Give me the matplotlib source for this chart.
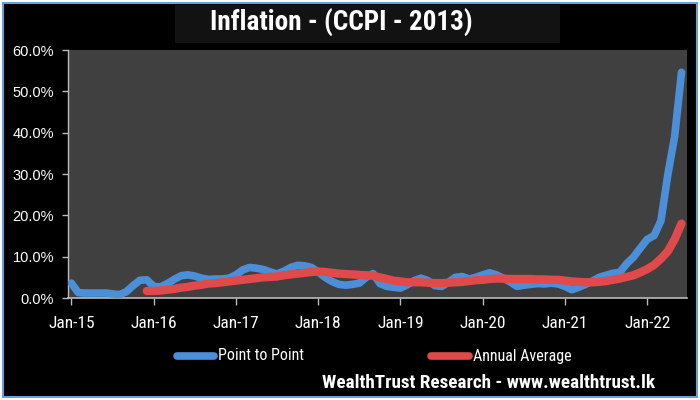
import matplotlib
matplotlib.use("Agg")
import matplotlib.pyplot as plt
from matplotlib.patches import Rectangle
from matplotlib.lines import Line2D
import numpy as np

# Monthly data Jan-15 .. Jun-22
point_to_point = [
    3.6, 1.3, 1.2, 1.2, 1.2, 1.2, 1.0, 0.8, 1.5, 3.0, 4.3, 4.4,   # 2015
    2.8, 2.7, 3.5, 4.5, 5.4, 5.6, 5.3, 4.8, 4.5, 4.6, 4.6, 4.8,   # 2016
    5.6, 6.8, 7.4, 7.2, 6.9, 6.3, 5.8, 6.5, 7.4, 7.9, 7.8, 7.4,   # 2017
    6.3, 5.0, 4.0, 3.3, 3.1, 3.3, 3.6, 5.0, 5.9, 3.5, 2.8, 2.6,   # 2018
    2.4, 3.2, 4.2, 4.8, 4.2, 3.0, 2.8, 3.8, 5.0, 5.2, 4.6, 5.0,   # 2019
    5.6, 6.1, 5.6, 4.8, 3.9, 2.8, 3.1, 3.3, 3.5, 3.4, 3.6, 3.4,   # 2020
    2.8, 2.0, 2.6, 3.3, 4.1, 5.0, 5.5, 6.0, 6.2, 8.3, 9.9, 12.1,  # 2021
    14.2, 15.1, 18.7, 29.8, 39.1, 54.6,                            # 2022
]
annual_average = [
    None] * 11 + [1.7,                                             # 2015
    1.7, 1.8, 2.0, 2.2, 2.5, 2.7, 3.0, 3.2, 3.5, 3.6, 3.8, 4.0,   # 2016
    4.2, 4.4, 4.6, 4.8, 5.0, 5.1, 5.2, 5.5, 5.7, 5.9, 6.1, 6.3,   # 2017
    6.4, 6.3, 6.1, 5.9, 5.8, 5.7, 5.6, 5.5, 5.4, 5.0, 4.6, 4.2,   # 2018
    4.0, 3.8, 3.8, 3.8, 3.7, 3.6, 3.6, 3.7, 3.8, 3.9, 4.1, 4.3,   # 2019
    4.4, 4.6, 4.7, 4.7, 4.6, 4.6, 4.6, 4.6, 4.5, 4.5, 4.4, 4.4,   # 2020
    4.2, 4.0, 3.9, 3.8, 3.8, 3.9, 4.1, 4.4, 4.7, 5.1, 5.5, 6.2,   # 2021
    7.0, 8.0, 9.5, 11.3, 14.2, 18.0,                               # 2022
]
x_labels = ["Jan-15", "Jan-16", "Jan-17", "Jan-18", "Jan-19", "Jan-20", "Jan-21", "Jan-22"]
y_ticks = [0, 10, 20, 30, 40, 50, 60]
series_names = ["Point to Point", "Annual Average"]
title = "Inflation - (CCPI - 2013)"
footer = "WealthTrust Research - www.wealthtrust.lk"

BLUE = "#4a8fd8"
RED = "#e04a4a"
NARROW = ["Roboto Condensed", "DejaVu Sans Condensed", "Liberation Sans Narrow", "DejaVu Sans"]

fig = plt.figure(figsize=(7, 4), dpi=100)
fig.patch.set_facecolor("white")
# black panel with blue frame
fig.add_artist(Rectangle((3 / 700, 3 / 400), 694 / 700, 394 / 400, transform=fig.transFigure,
                         facecolor="black", edgecolor="#6a9fd4", linewidth=1.5, zorder=0))
# title panel
fig.add_artist(Rectangle((175 / 700, 1 - 43 / 400), 385 / 700, 38 / 400, transform=fig.transFigure,
                         facecolor="#121212", edgecolor="none", zorder=1))
fig.text(341 / 700, 1 - 23 / 400, title, color="white", fontsize=19.5, fontweight="bold",
         family=NARROW, fontstretch="condensed", ha="center", va="center", zorder=2)

ax = fig.add_axes([68 / 700, 1 - 298 / 400, 619 / 700, 248 / 400])
ax.set_facecolor("#404040")
x = np.arange(len(point_to_point))
ax.plot(x, point_to_point, color=BLUE, lw=5.5, solid_capstyle="round", solid_joinstyle="round", zorder=3)
aa = np.array([np.nan if v is None else v for v in annual_average], dtype=float)
ax.plot(x, aa, color=RED, lw=6, solid_capstyle="round", solid_joinstyle="round", zorder=4)

ax.set_xlim(-0.5, 89.8)
ax.set_ylim(0, 60)
ax.set_yticks(y_ticks)
ax.set_yticklabels([f"{v:.1f}%" for v in y_ticks], color="white", fontsize=10.5,
                   family=["Liberation Sans", "DejaVu Sans"])
ax.set_xticks(np.arange(0, 90, 12))
ax.set_xticklabels(x_labels, color="white", fontsize=12.5, family=NARROW, fontstretch="condensed")
ax.tick_params(axis="y", colors="#bbbbbb", length=4, width=1, labelcolor="white", pad=6)
ax.tick_params(axis="x", colors="#bbbbbb", length=5, width=1, labelcolor="white", pad=8)
for s in ["top", "right"]:
    ax.spines[s].set_visible(False)
ax.spines["left"].set_color("#bbbbbb")
ax.spines["bottom"].set_color("#bbbbbb")
ax.spines["left"].set_linewidth(1)
ax.spines["bottom"].set_linewidth(1.2)

# legend keys and labels
ly = 1 - 356 / 400
for (x0, x1), color, name in [((177, 214), BLUE, series_names[0]), ((431, 469), RED, series_names[1])]:
    fig.add_artist(Line2D([x0 / 700, x1 / 700], [ly, ly], transform=fig.transFigure, color=color,
                          lw=5.5, solid_capstyle="round"))
    fig.text((x1 + 4) / 700, ly, name, color="white", fontsize=11.5, family=NARROW,
             fontstretch="condensed", ha="left", va="center")

fig.text(655 / 700, 1 - 383 / 400, footer, color="white", fontsize=13.8, fontweight="bold",
         family=NARROW, fontstretch="condensed", ha="right", va="center")

fig.savefig("out.png", dpi=100, facecolor=fig.get_facecolor())
